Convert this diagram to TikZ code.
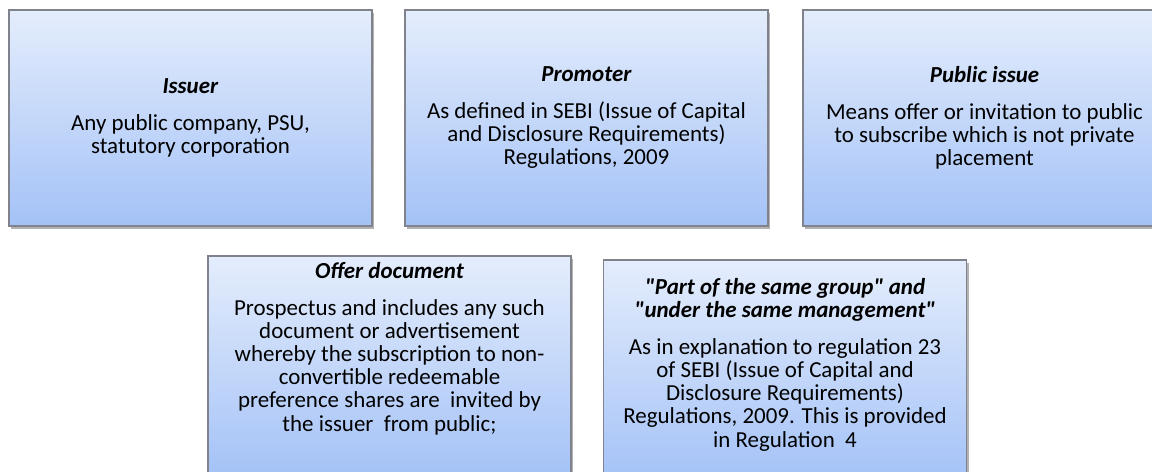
\documentclass[tikz,border=0pt]{standalone}
\usepackage{fontspec}
\setmainfont{Carlito}[Ligatures=TeXOff]
\usetikzlibrary{shadows,positioning}

\definecolor{boxtop}{RGB}{228,237,252}
\definecolor{boxbottom}{RGB}{164,194,247}
\definecolor{boxline}{RGB}{128,130,140}

\tikzset{
	panel/.style={draw=boxline, line width=0.8pt, top color=boxtop, bottom color=boxbottom,
		minimum width=272.25pt, minimum height=162pt, inner sep=0pt,
		drop shadow={shadow xshift=1.8pt, shadow yshift=-2.2pt, fill=black!55, opacity=0.55}},
	panel tall/.style={panel, minimum height=165pt},
	txt/.style={align=center, inner sep=0pt, font=\fontsize{17.2}{17.4}\selectfont}
}

\newcommand{\hd}[1]{\textbf{\textit{#1}}}

\begin{document}
\begin{tikzpicture}[x=0.75pt,y=-0.75pt]

	\useasboundingbox (0,0) rectangle (1152,471);
	\clip (0,0) rectangle (1152,471);

	\node[panel] (issuer) at (190.5,118) {};
	\node[panel] (promoter) at (586.5,118) {};
	\node[panel] (pubissue) at (984.5,118) {};
	\node[panel tall] (offer) at (389.5,366) {};
	\node[panel tall] (group) at (785,370) {};

	\node[txt] (issuertxt) at (issuer.center) {\hd{Issuer}\\[10pt]
		Any public company, PSU,\\ statutory corporation};
	\node[txt] (promotertxt) at (promoter.center) {\hd{Promoter}\\[10pt]
		As defined in SEBI (Issue of Capital\\ and Disclosure Requirements)\\ Regulations, 2009};
	\node[txt] (pubissuetxt) at (pubissue.center) {\hd{Public issue}\\[10pt]
		Means offer or invitation to public\\ to subscribe which is not private\\ placement};

	\node[txt, below=5pt of offer.north] (offertxt) {\hd{Offer document}\\[10pt]
		Prospectus and includes any such\\ document or advertisement\\
		whereby the subscription to non-\\ convertible redeemable\\
		preference shares are \ invited by\\ the issuer \ from public;};
	\node[txt, below=14pt of group.north] (grouptxt) {\hd{"Part of the same group" and}\\
		\hd{"under the same management"}\\[10pt]
		As in explanation to regulation 23\\ of SEBI (Issue of Capital and\\
		Disclosure Requirements)\\ Regulations, 2009. This is provided\\ in Regulation \ 4};

\end{tikzpicture}
\end{document}
